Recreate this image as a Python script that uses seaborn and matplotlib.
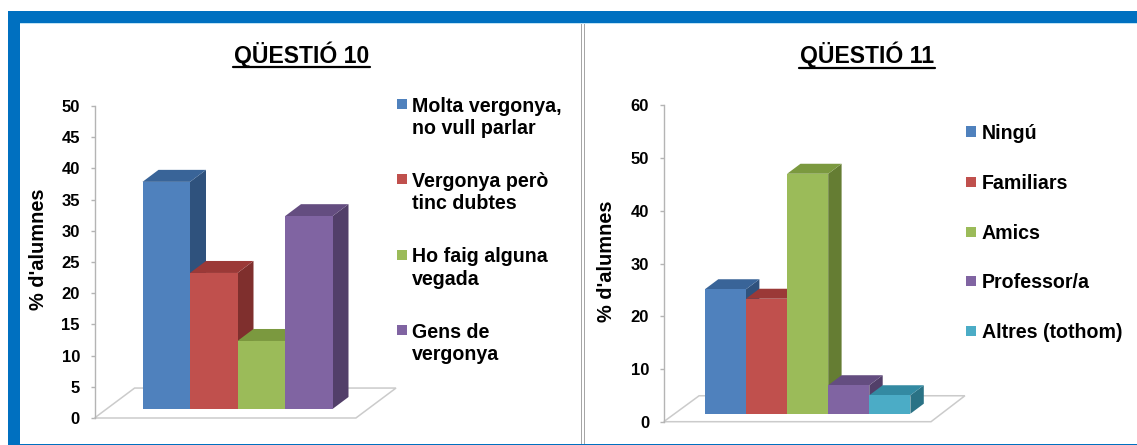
import colorsys
import pandas as pd
import seaborn as sns
import matplotlib.pyplot as plt
from matplotlib.patches import Rectangle
from matplotlib.lines import Line2D

W, H = 1137, 445

q10_categories = ['Molta vergonya,\nno vull parlar', 'Vergonya però\ntinc dubtes',
                  'Ho faig alguna\nvegada', 'Gens de\nvergonya']
q10_values = [36.4, 21.8, 10.9, 30.9]
q10_ticks = [0, 5, 10, 15, 20, 25, 30, 35, 40, 45, 50]

q11_categories = ['Ningú', 'Familiars', 'Amics', 'Professor/a', 'Altres (tothom)']
q11_values = [23.6, 21.8, 45.5, 5.4, 3.5]
q11_ticks = [0, 10, 20, 30, 40, 50, 60]

colors = ['#4F81BD', '#C0504D', '#9BBB59', '#8064A2', '#4BACC6']

sns.set_theme(style='white')
plt.rcParams['font.family'] = ['Liberation Sans', 'DejaVu Sans']
plt.rcParams['font.weight'] = 'bold'

fig = plt.figure(figsize=(W / 100, H / 100), dpi=100)


def fx(x):
    return x / W


def fy(y):
    return 1 - y / H


def frame_rect(x0, y0, x1, y1, color):
    fig.add_artist(Rectangle((fx(x0), fy(y1)), (x1 - x0) / W, (y1 - y0) / H,
                             transform=fig.transFigure, facecolor=color, edgecolor='none'))


def darker(color, factor):
    r, g, b = plt.matplotlib.colors.to_rgb(color)
    h, l, s = colorsys.rgb_to_hls(r, g, b)
    return colorsys.hls_to_rgb(h, l * factor, s)


def draw_chart(categories, values, ticks, box, bar_left, bar_w, base_px, depth, floor):
    left, right, top, bottom = box
    ax = fig.add_axes([fx(left), fy(bottom), (right - left) / W, (bottom - top) / H])
    df = pd.DataFrame({'cat': categories, 'val': values})
    unit = (bottom - top) / ticks[-1]
    base = (bottom - base_px) / unit

    sns.barplot(data=df, x='cat', y='val', hue='cat', palette=colors[:len(values)],
                saturation=1, width=1, legend=False, linewidth=0, ax=ax, bottom=base)
    bars = list(ax.patches)

    x0 = -0.5 - (bar_left - left) / bar_w
    ax.set_xlim(x0, x0 + (right - left) / bar_w)
    ax.set_ylim(ticks[0], ticks[-1])
    ax.set_xticks([])
    ax.set_xlabel('')
    ax.set_ylabel('')
    ax.set_yticks(ticks)
    ax.tick_params(axis='y', left=True, length=3, width=1, color='#B4B4B4', pad=7.5, labelsize=12,
                   labelcolor='black')
    for lab in ax.get_yticklabels():
        lab.set_fontweight('bold')
    sns.despine(ax=ax, bottom=True)
    ax.spines['left'].set_color('#B4B4B4')
    ax.spines['left'].set_linewidth(1)
    ax.patch.set_alpha(0)

    # floor of the 3d chart
    fr, bl, bh = floor
    ax.fill([0, fr, 1, bl], [0, 0, bh, bh], transform=ax.transAxes, facecolor='none',
            edgecolor='#CBCBCB', linewidth=1.1, zorder=1, clip_on=False)

    # side and top faces, later bars cover earlier ones
    dx = depth[0] / bar_w
    dy = depth[1] / unit
    for i, (bar, col) in enumerate(zip(bars, colors)):
        xa = bar.get_x()
        xb = xa + bar.get_width()
        yb = bar.get_y()
        yt = yb + bar.get_height()
        z = 3 + i * 2
        ax.fill([xb, xb + dx, xb + dx, xb], [yb, yb + dy, yt + dy, yt],
                color=darker(col, 0.64), linewidth=0, zorder=z)
        ax.fill([xa, xa + dx, xb + dx, xb], [yt, yt + dy, yt + dy, yt],
                color=darker(col, 0.78), linewidth=0, zorder=z)
        bar.set_zorder(z + 1)
    return ax


def legend_items(categories, xbox, xtext, centers):
    for cat, col, cy in zip(categories, colors, centers):
        frame_rect(xbox, cy - 5.2, xbox + 10.2, cy + 5.2, col)
        fig.text(fx(xtext), fy(cy - 7.5), cat, fontsize=14.15, fontweight='bold', color='black',
                 ha='left', va='top', linespacing=1.21)


def title(text, x0, x1, base_y, line_y):
    fig.text(fx((x0 + x1) / 2), fy(base_y), text, fontsize=16.6, fontweight='bold',
             color='black', ha='center', va='baseline')
    fig.add_artist(Line2D([fx(x0), fx(x1)], [fy(line_y), fy(line_y)], color='black',
                          linewidth=1.6, transform=fig.transFigure))


# blue frame and divider
frame_rect(8, 11, W, 23, '#0070C0')
frame_rect(20, 23, W, 24, '#BFE3F5')
frame_rect(8, 11, 20, H, '#0070C0')
frame_rect(20, 444, W, H, '#0070C0')
frame_rect(581, 24, 582, 444, '#A6A6A6')
frame_rect(584, 24, 585, 444, '#A6A6A6')

draw_chart(q10_categories, q10_values, q10_ticks, (94.5, 396, 106, 418), 142.5, 47.5, 409,
           (16, 12), (0.867, 0.133, 0.096))
draw_chart(q11_categories, q11_values, q11_ticks, (663.7, 964.9, 105.3, 421.7), 704.9, 41.1, 413.7,
           (13.4, 10), (0.8875, 0.1176, 0.082))

title('QÜESTIÓ 10', 233, 370, 63, 67)
title('QÜESTIÓ 11', 799, 935, 63, 67.5)

fig.text(fx(39), fy(249.5), "% d'alumnes", rotation=90, fontsize=14.4, fontweight='bold',
         color='black', ha='center', va='center')
fig.text(fx(606), fy(261), "% d'alumnes", rotation=90, fontsize=14.4, fontweight='bold',
         color='black', ha='center', va='center')

legend_items(q10_categories, 397, 412, [104, 179, 255, 330])
legend_items(q11_categories, 966, 981.6, [131.3, 181.7, 231.7, 281, 331])

fig.savefig('out.png', dpi=100)
